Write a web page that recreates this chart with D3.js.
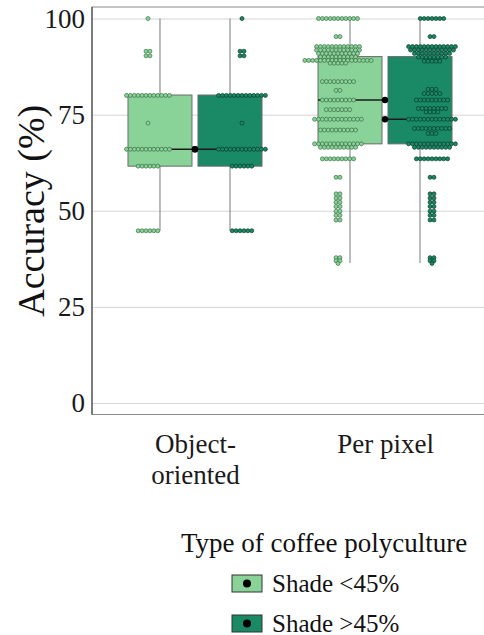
<!DOCTYPE html>
<html>
<head>
<meta charset="utf-8">
<script src="https://cdn.jsdelivr.net/npm/d3@7"></script>
<style>
  html, body { margin: 0; padding: 0; background: #fff; }
  svg { display: block; font-family: "Liberation Serif", "Times New Roman", serif; }
</style>
</head>
<body>
<svg id="chart" width="484" height="635"></svg>
<script>
// Classification method groups and shade classes
const groups = ["Object-oriented", "Per pixel"];
const shades = ["Shade <45%", "Shade >45%"];
const yTicks = [0, 25, 50, 75, 100];

// Box statistics per group: [lower whisker, Q1, median, Q3, upper whisker]
const boxShadeLow  = [[44.8, 61.6, 66.0, 80.1, 100], [36.4, 67.4, 78.8, 90.1, 100]];
const boxShadeHigh = [[44.8, 61.6, 66.0, 80.1, 100], [36.4, 67.4, 73.8, 90.1, 100]];

// Dot plot bins: accuracy value of each bin and number of observations in it
const objLowValues  = [100, 91.5, 90.3, 80, 72.8, 66, 61.6, 44.8];
const objLowCounts  = [1, 2, 2, 12, 1, 12, 6, 6];
const objHighValues = [100, 91.5, 90.3, 80, 72.8, 66, 61.6, 44.8];
const objHighCounts = [1, 2, 2, 13, 1, 13, 6, 6];

const pixLowValues = [100, 95.3, 92.7, 91.8, 90.9, 90.0, 89.1, 88.4, 83.6, 81.3, 78.8, 76.3, 73.8, 71.0,
                      67.4, 66.5, 63.5, 58.7, 54.4, 53.3, 52.2, 51.1, 49.9, 48.8, 47.6, 37.8, 37.0, 36.3];
const pixLowCounts = [11, 2, 12, 12, 11, 10, 18, 5, 9, 2, 9, 7, 13, 10,
                      13, 10, 9, 2, 2, 2, 2, 2, 2, 2, 2, 2, 2, 1];
const pixHighValues = [100, 95.3, 92.7, 91.8, 90.9, 90.0, 88.9, 81.6, 80.5, 78.8, 76.6, 75.7, 73.8, 71.4, 70.1,
                       67.4, 66.5, 63.5, 58.7, 54.4, 53.3, 52.2, 51.1, 49.9, 48.8, 47.6, 37.8, 37.0, 36.3];
const pixHighCounts = [7, 2, 13, 12, 10, 8, 5, 3, 5, 9, 8, 4, 13, 10, 3,
                       13, 10, 9, 2, 2, 2, 2, 2, 2, 2, 2, 2, 2, 1];

const fills   = ["#8ad398", "#1a8a66"];
const strokes = ["#3b6e46", "#083a29"];

const svg = d3.select("#chart");
const panel = { left: 92, right: 488, top: 7, bottom: 414.5 };

const y = d3.scaleLinear().domain([-3, 103]).range([panel.bottom, panel.top]);
const x = d3.scalePoint().domain(groups).range([panel.left, panel.right]).padding(0.542);
const shadeOffset = d3.scalePoint().domain(shades).range([-35, 35]);
const boxWidth = 64;
const dotShift = 12;     // dots sit off-centre from each box
const dotStep = 3.9;
const dotR = 2.0;

// Gridlines
svg.append("g")
  .attr("transform", `translate(${panel.left},0)`)
  .call(d3.axisLeft(y).tickValues(yTicks).tickSize(-(panel.right - panel.left)).tickFormat(""))
  .call(g => g.select(".domain").remove())
  .call(g => g.selectAll("line").attr("stroke", "#d6d6d6").attr("stroke-width", 1));

// Panel border
svg.append("rect")
  .attr("x", panel.left).attr("y", panel.top)
  .attr("width", panel.right - panel.left).attr("height", panel.bottom - panel.top)
  .attr("fill", "none").attr("stroke", "#8a8a8a").attr("stroke-width", 1);
svg.append("line")
  .attr("x1", panel.left).attr("x2", panel.left)
  .attr("y1", panel.top).attr("y2", panel.bottom)
  .attr("stroke", "#333").attr("stroke-width", 1);

// Y axis labels
svg.append("g")
  .attr("transform", `translate(${panel.left},0)`)
  .call(d3.axisLeft(y).tickValues(yTicks).tickSize(0).tickPadding(7))
  .call(g => g.select(".domain").remove())
  .call(g => g.selectAll("text")
    .attr("font-family", "Liberation Serif, serif").attr("font-size", 27).attr("fill", "#1a1a1a"));

svg.append("text")
  .attr("transform", `translate(44,${(panel.top + panel.bottom) / 2}) rotate(-90)`)
  .attr("text-anchor", "middle")
  .attr("font-size", 38).attr("fill", "#111")
  .text("Accuracy (%)");

// X axis labels (wrapped at the hyphen)
const xAxis = svg.append("g")
  .attr("transform", `translate(0,${panel.bottom})`)
  .call(d3.axisBottom(x).tickSize(0).tickPadding(0))
  .call(g => g.select(".domain").remove());
xAxis.selectAll("text").each(function (d) {
  const t = d3.select(this).text("")
    .attr("font-family", "Liberation Serif, serif").attr("font-size", 27).attr("fill", "#1a1a1a")
    .attr("dy", null).attr("y", 38);
  const lines = d.includes("-") ? [d.slice(0, d.indexOf("-") + 1), d.slice(d.indexOf("-") + 1)] : [d];
  lines.forEach((ln, i) => t.append("tspan").attr("x", 0).attr("dy", i === 0 ? 0 : 31).text(ln));
});

// Box plots
const boxStats = [boxShadeLow, boxShadeHigh];
const plotLayer = svg.append("g");
shades.forEach((s, si) => {
  groups.forEach((g, gi) => {
    const [lo, q1, med, q3, hi] = boxStats[si][gi];
    const cx = x(g) + shadeOffset(s);
    plotLayer.append("line")
      .attr("x1", cx).attr("x2", cx).attr("y1", y(hi)).attr("y2", y(q3))
      .attr("stroke", "#7a7a7a").attr("stroke-width", 1);
    plotLayer.append("line")
      .attr("x1", cx).attr("x2", cx).attr("y1", y(q1)).attr("y2", y(lo))
      .attr("stroke", "#7a7a7a").attr("stroke-width", 1);
    plotLayer.append("rect")
      .attr("x", cx - boxWidth / 2).attr("y", y(q3))
      .attr("width", boxWidth).attr("height", y(q1) - y(q3))
      .attr("fill", fills[si]).attr("stroke", "#6a6a6a").attr("stroke-width", 1);
  });
});

// Median lines joined to a marker at the group centre
shades.forEach((s, si) => {
  groups.forEach((g, gi) => {
    const med = boxStats[si][gi][2];
    const cx = x(g) + shadeOffset(s);
    const x0 = si === 0 ? cx - boxWidth / 2 : x(g);
    const x1 = si === 0 ? x(g) : cx + boxWidth / 2;
    plotLayer.append("line")
      .attr("x1", x0).attr("x2", x1).attr("y1", y(med)).attr("y2", y(med))
      .attr("stroke", "#1a1a1a").attr("stroke-width", 1.6);
  });
});

// Dot plots, centre-stacked horizontally
const dotSets = [
  { shade: 0, group: groups[0], values: objLowValues,  counts: objLowCounts },
  { shade: 1, group: groups[0], values: objHighValues, counts: objHighCounts },
  { shade: 0, group: groups[1], values: pixLowValues,  counts: pixLowCounts },
  { shade: 1, group: groups[1], values: pixHighValues, counts: pixHighCounts }
];
dotSets.forEach(set => {
  const cx = x(set.group) + shadeOffset(shades[set.shade]) + (set.shade === 0 ? -dotShift : dotShift);
  const pts = [];
  set.values.forEach((v, i) => {
    const n = set.counts[i];
    for (let k = 0; k < n; k++) pts.push({ v, px: cx + (k - (n - 1) / 2) * dotStep });
  });
  plotLayer.append("g").selectAll("circle").data(pts).join("circle")
    .attr("cx", d => d.px).attr("cy", d => y(d.v)).attr("r", dotR)
    .attr("fill", fills[set.shade]).attr("stroke", strokes[set.shade]).attr("stroke-width", 0.7);
});

// Median markers
shades.forEach((s, si) => {
  groups.forEach((g, gi) => {
    plotLayer.append("circle")
      .attr("cx", x(g)).attr("cy", y(boxStats[si][gi][2])).attr("r", 3.2)
      .attr("fill", "#000");
  });
});

// Legend
const legend = svg.append("g");
legend.append("text")
  .attr("x", 181).attr("y", 552)
  .attr("font-size", 27).attr("fill", "#111")
  .text("Type of coffee polyculture");
shades.forEach((s, i) => {
  const ly = 575 + i * 40;
  legend.append("rect")
    .attr("x", 232).attr("y", ly).attr("width", 30).attr("height", 17)
    .attr("fill", fills[i]).attr("stroke", "#333").attr("stroke-width", 1);
  legend.append("circle")
    .attr("cx", 247).attr("cy", ly + 8.5).attr("r", 4).attr("fill", "#000");
  legend.append("text")
    .attr("x", 272).attr("y", ly + 16.5)
    .attr("font-size", 25).attr("fill", "#111")
    .text(s);
});
</script>
</body>
</html>
